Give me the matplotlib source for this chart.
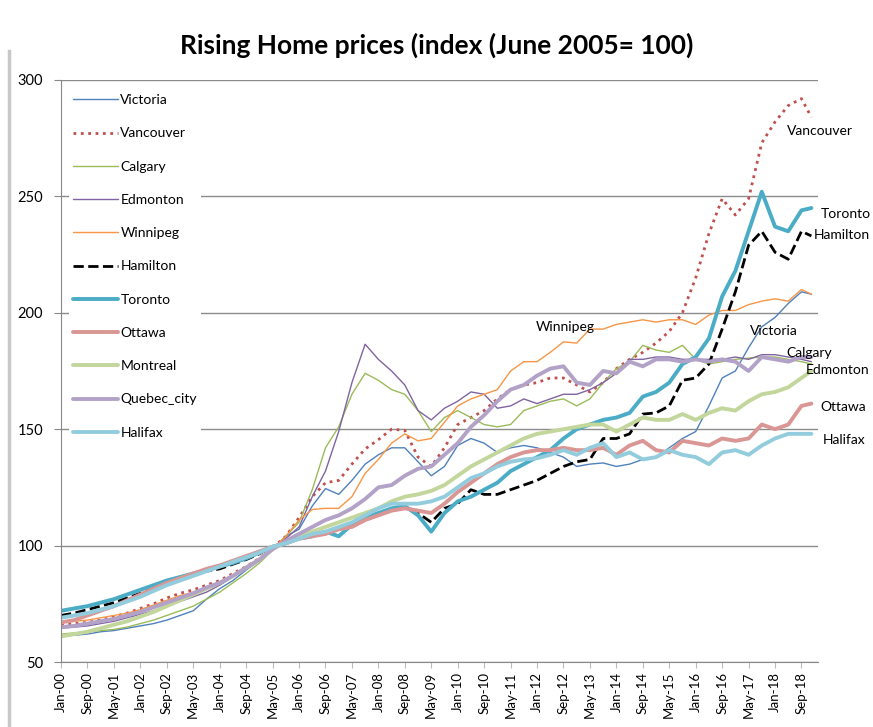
import matplotlib
matplotlib.use("Agg")
import matplotlib.pyplot as plt
from matplotlib.lines import Line2D

plt.rcParams['font.family'] = ['Lato', 'DejaVu Sans']

# month index from Jan-2000, one reading every 4 months, last one Dec-2018
months = list(range(0, 228, 4)) + [227]

tick_months = list(range(0, 225, 8))
tick_labels = ["Jan-00", "Sep-00", "May-01", "Jan-02", "Sep-02", "May-03", "Jan-04",
               "Sep-04", "May-05", "Jan-06", "Sep-06", "May-07", "Jan-08", "Sep-08",
               "May-09", "Jan-10", "Sep-10", "May-11", "Jan-12", "Sep-12", "May-13",
               "Jan-14", "Sep-14", "May-15", "Jan-16", "Sep-16", "May-17", "Jan-18",
               "Sep-18"]

victoria = [61, 61.5, 62, 63, 63.5, 64.5, 65.5, 66.5, 68, 70,
            72, 77, 81.5, 85, 89.5, 93.5, 98.5, 104, 107, 117,
            124.5, 122, 128, 135, 139, 142, 142, 136, 130, 134,
            143, 146, 144, 140, 142, 143, 142, 140, 138, 134,
            135, 135.5, 134, 135, 137, 138, 142, 146, 149, 160,
            172, 175, 185, 194, 198, 204, 209, 208]
vancouver = [66, 66.5, 67, 68, 69.5, 71, 73, 75, 77.5, 79.5,
             81, 83, 85, 88, 91, 94.5, 99, 104, 112, 121,
             127, 128, 135, 141.5, 145.5, 150, 149.5, 138, 134, 142,
             152, 155, 158, 163, 167, 169, 170, 172, 172, 169,
             166, 170, 176, 180, 183, 187, 192, 200, 215, 234,
             249, 242, 249, 273, 282, 289, 292, 284]
calgary = [62, 62.5, 63, 63.5, 64, 65, 66.5, 68, 70, 72,
           74, 77, 80, 84, 88, 92.5, 98, 104, 110, 124,
           142, 151, 165, 174, 171, 167, 165, 158, 149, 155,
           158, 155, 152, 151, 152, 158, 160, 162, 163, 160,
           163, 170, 176, 179, 186, 184, 183, 186, 180, 178,
           179, 180, 180.5, 181, 181, 180, 179, 178]
edmonton = [64.5, 65, 65.5, 66.5, 67.5, 69, 70.5, 72, 74, 76,
            78, 80, 83, 86.5, 90, 94, 99, 103, 108, 121,
            132, 149, 170, 186.5, 180, 175, 169, 158, 154, 159,
            162, 166, 165, 159, 160, 163, 161, 163, 165, 165,
            167, 170, 174, 180, 180, 181, 181, 180, 180, 180,
            180, 181, 180, 182, 182, 181, 180, 179]
winnipeg = [67, 67.5, 68, 69, 70, 71, 72.5, 74.5, 76.5, 78.5,
            80, 82, 84, 87, 90, 93.5, 98.5, 104, 111, 115.5,
            116, 116, 121, 131, 137, 144, 148, 145, 146, 153,
            160, 163, 165, 167, 175, 179, 179, 183, 187.5, 187,
            193, 193, 195, 196, 197, 196, 197, 197, 195, 199,
            201, 201, 203.5, 205, 206, 205, 210, 208]
hamilton = [70, 71, 72.5, 74, 75.5, 77.5, 79.5, 81.5, 83.5, 85.5,
            87.5, 89, 90, 92, 94, 96.5, 99.5, 101, 103, 104.5,
            106, 107, 109, 111, 113, 116, 117, 114, 110, 116,
            118, 124, 122, 122, 124, 126, 128, 131, 134, 136,
            137, 146, 146, 148, 156.5, 157, 160, 171, 172, 178,
            193, 209, 229, 235, 226, 223, 235, 233]
toronto = [72, 73, 74, 75.5, 77, 79, 81, 83, 85, 86.5,
           88, 89.5, 91, 92.5, 94.5, 97, 99.5, 101, 103, 104,
           106, 104, 109, 112, 114, 116, 117, 113, 106, 114,
           119, 121, 124, 127, 132, 135, 138, 141, 146, 150,
           152, 154, 155, 157, 164, 166, 170, 178, 181, 189,
           207, 218, 235, 252, 237, 235, 244, 245]
ottawa = [67, 68, 70, 72, 74, 76.5, 79, 81.5, 84, 86,
          88, 90, 91.5, 93.5, 95.5, 97.5, 99.5, 101, 103, 104,
          105, 107, 108, 111, 113, 115, 116, 115, 114, 118,
          123, 127, 131, 135, 138, 140, 141, 141, 142, 141,
          141, 142, 139, 143, 145, 141, 140, 145, 144, 143,
          146, 145, 146, 152, 150, 152, 160, 161]
montreal = [61, 62, 63, 64.5, 66, 67.5, 69.5, 71.5, 74, 76.5,
            79, 81.5, 84, 87, 90.5, 94, 98.5, 101.5, 104, 106,
            108, 110, 112, 114, 116, 119, 121, 122, 123.5, 126,
            130, 134, 137, 140, 143, 146, 148, 149, 150, 151,
            152, 152, 149, 152, 155, 154, 154, 156.5, 154, 157,
            159, 158, 162, 165, 166, 168, 172, 175]
quebec_city = [65, 65.5, 66.5, 67.5, 68.5, 70, 71.5, 73.5, 75.5, 77.5,
               79.5, 82, 84, 87, 90.5, 94, 98.5, 102, 105, 108,
               111, 113, 116, 120, 125, 126, 130, 133, 134, 139,
               144, 151, 156, 162, 167, 169, 173, 176, 177, 170,
               169, 175, 174, 179, 177, 180, 180, 179, 180, 179,
               180, 179, 175, 181, 180, 179, 181, 181]
halifax = [69, 70, 71, 72.5, 74, 76, 78, 80.5, 83, 85,
           87, 89, 91, 93, 95, 97, 99.5, 101, 103, 105,
           106, 108, 110, 113, 116, 118, 118, 118, 119, 121,
           125, 129, 131, 134, 136, 137, 137.5, 139, 141, 139,
           142, 144, 138, 140, 137, 138, 141, 139, 138, 135,
           140, 141, 139, 143, 146, 148, 148, 148]

series = [
    ("Victoria", victoria, "#4F81BD", 1.0, "-"),
    ("Vancouver", vancouver, "#C0504D", 2.0, ":"),
    ("Calgary", calgary, "#9BBB59", 1.0, "-"),
    ("Edmonton", edmonton, "#8064A2", 1.0, "-"),
    ("Winnipeg", winnipeg, "#F79646", 1.0, "-"),
    ("Hamilton", hamilton, "#000000", 2.0, "--"),
    ("Toronto", toronto, "#4BACC6", 2.8, "-"),
    ("Ottawa", ottawa, "#D99694", 2.8, "-"),
    ("Montreal", montreal, "#C3D69B", 2.8, "-"),
    ("Quebec_city", quebec_city, "#B3A2C7", 2.8, "-"),
    ("Halifax", halifax, "#93CDDD", 2.8, "-"),
]

# end-of-line labels: text, month, value
end_labels = [("Vancouver", 219.5, 278), ("Toronto", 229.8, 242.5),
              ("Hamilton", 227.6, 233.5), ("Winnipeg", 143.5, 194),
              ("Victoria", 208.5, 192), ("Calgary", 219.4, 182.6),
              ("Edmonton", 225.3, 175.3), ("Ottawa", 229.7, 159.5),
              ("Halifax", 230.3, 145.4)]

fig = plt.figure(figsize=(8.73, 7.27), dpi=100)
ax = fig.add_axes([0.0699, 0.0894, 0.8671, 0.8006])

for name, vals, col, lw, ls in series:
    ax.plot(months, vals, color=col, lw=lw, ls=ls, label=name,
            solid_capstyle="round")

ax.set_xlim(0, 229)
ax.set_ylim(50, 300)
ax.set_yticks([50, 100, 150, 200, 250, 300])
ax.set_xticks(tick_months)
ax.set_xticklabels(tick_labels, rotation=90, fontsize=9.5)
ax.tick_params(axis="y", labelsize=10.5, length=5, color="#888888", pad=8)
ax.tick_params(axis="x", length=4, color="#BBBBBB", pad=3)
ax.yaxis.grid(True, color="#8C8C8C", lw=1)
ax.set_axisbelow(True)
for s in ["top", "right"]:
    ax.spines[s].set_visible(False)
for s in ["left", "bottom"]:
    ax.spines[s].set_color("#888888")

for txt, m, v in end_labels:
    ax.text(m, v, txt, fontsize=10, va="center", ha="left", clip_on=False)

leg = ax.legend(loc="upper left", bbox_to_anchor=(0.005, 0.99), fontsize=10,
                frameon=True, facecolor="white", edgecolor="none",
                framealpha=1, handlelength=3.2, handletextpad=0.2,
                labelspacing=1.53, borderpad=0.3, borderaxespad=0.3)
leg.set_zorder(5)

fig.text(0.5, 0.937, "Rising Home prices (index (June 2005= 100)",
         ha="center", va="center", fontsize=19, fontweight="bold")

fig.add_artist(Line2D([9 / 873, 9 / 873], [0, 0.93], color="#C8C8C8", lw=2.5))

fig.savefig("out.png", dpi=100)
